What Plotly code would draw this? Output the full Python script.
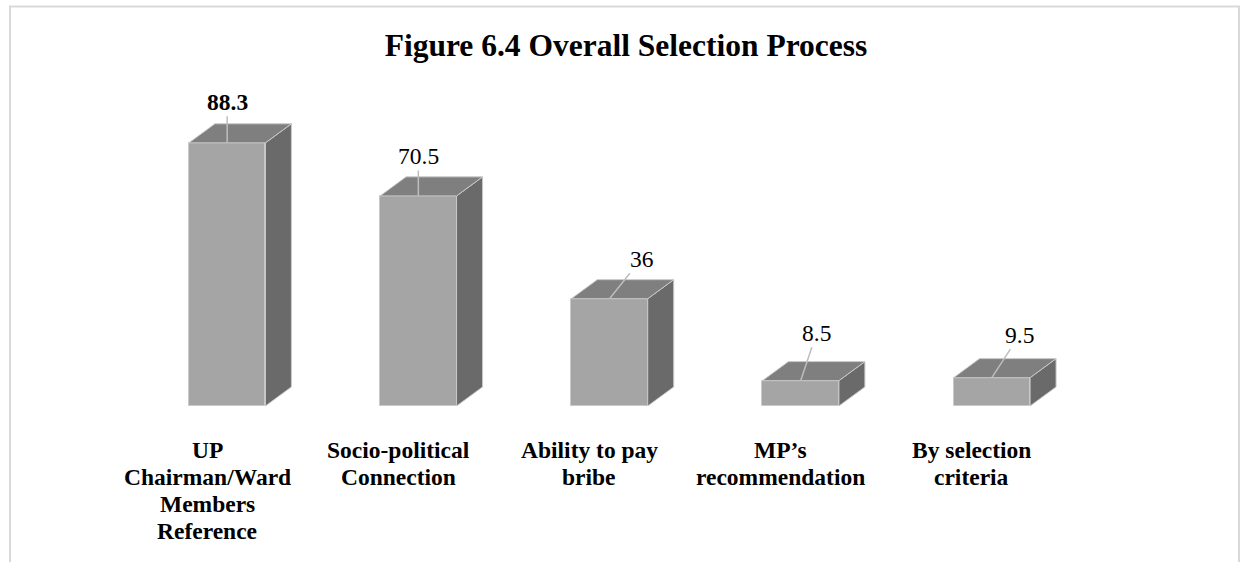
import plotly.graph_objects as go

# ---- data ----
categories = [
    "UP<br>Chairman/Ward<br>Members<br>Reference",
    "Socio-political<br>Connection",
    "Ability to pay<br>bribe",
    "MP’s<br>recommendation",
    "By selection<br>criteria",
]
values = [88.3, 70.5, 36, 8.5, 9.5]
value_labels = ["88.3", "70.5", "36", "8.5", "9.5"]

# ---- style ----
FONT = "Liberation Serif"
FRONT = "#a5a5a5"
TOP = "#7f7f7f"
SIDE = "#6a6a6a"
EDGE = "#c9c9c9"
LEADER = "#bdbdbd"

W, H = 1245, 562
ML, MR, MT, MB = 36, 62, 108, 156
X_RANGE = [-1, 5]
Y_RANGE = [0, 100]

BAR_W = 0.40      # front-face width in category units
DEPTH_X = 0.136   # oblique depth, x units
DEPTH_Y = 6.4     # oblique depth, y units

# pixel offsets of each value label from the top edge of its bar
label_shift = [(0, -41), (0, -40), (32, -40), (16, -48), (28, -43)]
label_bold = [True, False, False, False, False]

CAT_X_SHIFT = -0.105   # category text sits a little left of the front face
CAT_FIRST_LINE = -44   # px below the baseline for the first text line
CAT_LINE_STEP = 27     # px between text lines

idx = list(range(len(values)))

# top and side faces of each box, as closed polygons
top_x, top_y, side_x, side_y = [], [], [], []
for i, v in zip(idx, values):
    xl, xr = i - BAR_W / 2, i + BAR_W / 2
    top_x += [xl, xl + DEPTH_X, xr + DEPTH_X, xr, xl, None]
    top_y += [v, v + DEPTH_Y, v + DEPTH_Y, v, v, None]
    side_x += [xr, xr + DEPTH_X, xr + DEPTH_X, xr, xr, None]
    side_y += [0, DEPTH_Y, v + DEPTH_Y, v, 0, None]

fig = go.Figure()
fig.add_trace(go.Scatter(
    x=side_x, y=side_y, mode="lines", fill="toself", fillcolor=SIDE,
    line=dict(color=EDGE, width=1), hoverinfo="skip", showlegend=False,
))
fig.add_trace(go.Scatter(
    x=top_x, y=top_y, mode="lines", fill="toself", fillcolor=TOP,
    line=dict(color=EDGE, width=1), hoverinfo="skip", showlegend=False,
))
fig.add_trace(go.Bar(
    x=idx, y=values, width=BAR_W,
    marker=dict(color=FRONT, line=dict(color=EDGE, width=1)),
    hoverinfo="skip", showlegend=False,
))

# value labels with leader lines to the bar tops
for i, v, txt, (dx, dy), b in zip(idx, values, value_labels, label_shift, label_bold):
    fig.add_annotation(
        x=i, y=v, text=f"<b>{txt}</b>" if b else txt,
        showarrow=True, arrowhead=0, arrowwidth=1.5, arrowcolor=LEADER,
        ax=dx, ay=dy, font=dict(family=FONT, size=23.5, color="black"),
    )

# category names under the bars, one line at a time for tight line spacing
for i, cat in zip(idx, categories):
    for k, line in enumerate(cat.split("<br>")):
        fig.add_annotation(
            x=i + CAT_X_SHIFT, y=0, xref="x", yref="y",
            text=f"<b>{line}</b>", showarrow=False,
            xanchor="center", yanchor="middle",
            yshift=CAT_FIRST_LINE - k * CAT_LINE_STEP,
            font=dict(family=FONT, size=23.5, color="black"),
        )

# light frame around the chart
pw, ph = W - ML - MR, H - MT - MB
fig.add_shape(
    type="rect", xref="paper", yref="paper",
    x0=(10 - ML) / pw, x1=(1239 - ML) / pw,
    y0=(-20 - MB) / ph, y1=(H - 6.5 - MB) / ph,
    line=dict(color="#d9d9d9", width=2), fillcolor="rgba(0,0,0,0)",
    layer="below",
)

fig.update_layout(
    width=W, height=H,
    margin=dict(l=ML, r=MR, t=MT, b=MB),
    paper_bgcolor="white", plot_bgcolor="white",
    title=dict(
        text="<b>Figure 6.4 Overall Selection Process</b>",
        font=dict(family=FONT, size=31.5, color="black"),
        x=626 / W, xanchor="center", xref="container",
        y=1 - 45 / H, yanchor="middle", yref="container",
    ),
    xaxis=dict(
        range=X_RANGE, tickvals=idx, showticklabels=False,
        showgrid=False, zeroline=False, showline=False, ticks="",
        fixedrange=True,
    ),
    yaxis=dict(range=Y_RANGE, visible=False, fixedrange=True),
    bargap=0,
)

fig.write_html("out.html", config={"displayModeBar": False})
